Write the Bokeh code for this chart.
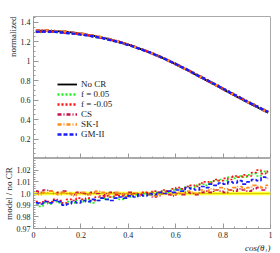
import numpy as np
from bokeh.plotting import figure
from bokeh.layouts import column
from bokeh.models import FixedTicker, Legend, LegendItem, Title
from bokeh.embed import file_html
from bokeh.resources import INLINE

# ---- data ----
bin_centers = [0.01, 0.03, 0.05, 0.07, 0.09, 0.11, 0.13, 0.15, 0.17, 0.19,
               0.21, 0.23, 0.25, 0.27, 0.29, 0.31, 0.33, 0.35, 0.37, 0.39,
               0.41, 0.43, 0.45, 0.47, 0.49, 0.51, 0.53, 0.55, 0.57, 0.59,
               0.61, 0.63, 0.65, 0.67, 0.69, 0.71, 0.73, 0.75, 0.77, 0.79,
               0.81, 0.83, 0.85, 0.87, 0.89, 0.91, 0.93, 0.95, 0.97, 0.99]

no_cr = [1.315, 1.315, 1.315, 1.313, 1.311, 1.308, 1.304, 1.299, 1.293, 1.287,
         1.280, 1.272, 1.263, 1.254, 1.244, 1.233, 1.221, 1.208, 1.194, 1.179,
         1.163, 1.146, 1.128, 1.110, 1.091, 1.071, 1.050, 1.028, 1.005, 0.981,
         0.957, 0.932, 0.907, 0.881, 0.855, 0.829, 0.803, 0.777, 0.751, 0.724,
         0.698, 0.672, 0.646, 0.620, 0.594, 0.569, 0.544, 0.519, 0.495, 0.472]

ratio_f_p05 = [0.990, 0.989, 0.992, 0.991, 0.993, 0.992, 0.991, 0.993, 0.992, 0.994,
               0.993, 0.995, 0.992, 0.994, 0.996, 0.995, 0.997, 0.996, 0.995, 0.998,
               0.997, 0.999, 0.998, 1.000, 0.999, 1.001, 1.000, 1.002, 1.001, 1.003,
               1.004, 1.003, 1.006, 1.005, 1.007, 1.008, 1.007, 1.010, 1.011, 1.012,
               1.011, 1.014, 1.013, 1.015, 1.014, 1.016, 1.017, 1.015, 1.019, 1.018]

ratio_f_m05 = [0.993, 0.992, 0.994, 0.993, 0.995, 0.994, 0.992, 0.995, 0.994, 0.996,
               0.995, 0.996, 0.994, 0.997, 0.996, 0.998, 0.997, 0.999, 0.998, 0.997,
               0.999, 1.000, 0.999, 1.001, 1.000, 1.002, 1.001, 1.003, 1.002, 1.004,
               1.005, 1.004, 1.006, 1.007, 1.006, 1.009, 1.010, 1.009, 1.012, 1.011,
               1.013, 1.012, 1.015, 1.014, 1.016, 1.015, 1.018, 1.020, 1.017, 1.019]

ratio_cs = [1.002, 1.001, 1.003, 1.002, 1.000, 1.001, 1.002, 1.000, 0.999, 1.001,
            1.000, 0.999, 1.001, 1.000, 0.998, 1.000, 1.001, 0.999, 1.000, 0.999,
            1.001, 1.000, 0.998, 1.000, 0.999, 0.997, 0.998, 1.000, 0.999, 0.998,
            1.000, 0.999, 1.001, 1.000, 0.999, 1.001, 1.002, 1.001, 1.003, 1.002,
            1.001, 1.003, 1.002, 1.004, 1.003, 1.002, 1.004, 1.005, 1.003, 1.005]

ratio_sk1 = [1.000, 0.999, 1.001, 1.002, 1.000, 0.999, 1.001, 1.000, 0.998, 1.000,
             1.001, 0.999, 1.000, 1.002, 1.001, 0.999, 1.000, 1.001, 0.999, 1.000,
             0.998, 1.000, 0.999, 1.001, 1.000, 0.998, 0.999, 1.001, 1.000, 0.999,
             1.001, 1.000, 1.002, 1.001, 1.000, 1.003, 1.002, 1.004, 1.003, 1.005,
             1.004, 1.003, 1.005, 1.006, 1.004, 1.005, 1.007, 1.006, 1.005, 1.007]

ratio_gm2 = [0.992, 0.991, 0.993, 0.992, 0.994, 0.993, 0.990, 0.991, 0.993, 0.992,
             0.994, 0.993, 0.995, 0.994, 0.996, 0.995, 0.994, 0.996, 0.997, 0.996,
             0.998, 0.997, 0.999, 0.998, 1.000, 0.999, 1.001, 1.000, 1.002, 1.001,
             1.003, 1.002, 1.005, 1.004, 1.003, 1.006, 1.005, 1.008, 1.007, 1.009,
             1.008, 1.010, 1.009, 1.011, 1.008, 1.010, 1.012, 1.011, 1.014, 1.013]

no_cr_err = 0.0015

x_ticks = [0, 0.2, 0.4, 0.6, 0.8, 1.0]
x_tick_labels = ["0", "0.2", "0.4", "0.6", "0.8", "1"]
top_y_ticks = [0.2, 0.4, 0.6, 0.8, 1.0, 1.2, 1.4]
top_y_labels = ["0.2", "0.4", "0.6", "0.8", "1", "1.2", "1.4"]
bot_y_ticks = [0.97, 0.98, 0.99, 1.0, 1.01, 1.02]
bot_y_labels = ["0.97", "0.98", "0.99", "1.0", "1.01", "1.02"]

series = [
    ("f = 0.05", ratio_f_p05, "#22ee22", "2 2"),
    ("f = -0.05", ratio_f_m05, "#ff1111", "2 2"),
    ("CS", ratio_cs, "#c8104a", "4 2 1 2"),
    ("SK-I", ratio_sk1, "#ff8c1a", "4 2 1 2"),
    ("GM-II", ratio_gm2, "#1a1aff", "4 2"),
]

FONT = "Liberation Serif"
AX_GRAY = "#999999"

def style(p, y_ticks, y_labels, y_minor, show_x_labels):
    p.outline_line_color = "#aaaaaa"
    p.xgrid.visible = False
    p.ygrid.visible = False
    for ax in p.axis:
        ax.axis_line_color = AX_GRAY
        ax.major_tick_line_color = AX_GRAY
        ax.minor_tick_line_color = AX_GRAY
        ax.major_tick_in = 5
        ax.major_tick_out = 0
        ax.minor_tick_in = 2
        ax.minor_tick_out = 0
        ax.major_label_text_font = FONT
        ax.major_label_text_font_size = "8px"
        ax.major_label_text_color = "#222222"
        ax.axis_label_text_font = FONT
        ax.axis_label_text_font_size = "9px"
        ax.axis_label_text_font_style = "normal"
        ax.axis_label_text_color = "#222222"
        ax.major_label_standoff = 3
        ax.axis_label_standoff = 0
    p.xaxis.ticker = FixedTicker(ticks=x_ticks,
                                 minor_ticks=list(np.round(np.arange(0, 1.0001, 0.05), 3)))
    p.yaxis.ticker = FixedTicker(ticks=y_ticks, minor_ticks=y_minor)
    p.yaxis.major_label_overrides = {t: l for t, l in zip(y_ticks, y_labels)}
    if show_x_labels:
        p.xaxis.major_label_overrides = {t: l for t, l in zip(x_ticks, x_tick_labels)}
    else:
        p.xaxis.major_label_overrides = {t: "" for t in x_ticks}
        p.xaxis.major_label_text_font_size = "1px"
        p.xaxis.major_label_standoff = 0
        p.xaxis.axis_line_color = "#555555"

# ---- top panel ----
top = figure(frame_width=237, frame_height=142, x_range=(0, 1), y_range=(0, 1.46),
             output_backend="svg", toolbar_location=None,
             min_border_left=26, min_border_right=9, min_border_top=16, min_border_bottom=0)
style(top, top_y_ticks, top_y_labels,
      list(np.round(np.arange(0.05, 1.46, 0.05), 3)), False)
top.add_layout(Title(text="normalized", align="right", text_font=FONT,
                     text_font_size="9px", text_font_style="normal",
                     text_color="#222222", standoff=0, offset=0), "left")

base = np.array(no_cr)
items = []
r0 = top.line(bin_centers, no_cr, line_color="black", line_width=1.8)
items.append(LegendItem(label="No CR", renderers=[r0]))
top_renderers = {}
for name, ratio, col, dash in series:
    r = top.line(bin_centers, list(base * np.array(ratio)), line_color=col,
                 line_width=2.4, line_dash=dash)
    top_renderers[name] = r
for name, ratio, col, dash in series:
    items.append(LegendItem(label=name, renderers=[top_renderers[name]]))

legend = Legend(items=items, location=(24, 19), orientation="vertical",
                glyph_width=20, glyph_height=10, label_height=10, spacing=0,
                padding=0, margin=0, label_standoff=4,
                label_text_font=FONT, label_text_font_size="9px",
                label_text_color="#222222",
                border_line_color=None, background_fill_alpha=0)
top.add_layout(legend, "center")

# ---- bottom panel ----
bot = figure(frame_width=237, frame_height=70, x_range=(0, 1), y_range=(0.97, 1.03),
             output_backend="svg", toolbar_location=None,
             min_border_left=26, min_border_right=9, min_border_top=0, min_border_bottom=0)
style(bot, bot_y_ticks, bot_y_labels,
      list(np.round(np.arange(0.97, 1.0301, 0.002), 4)), True)
bot.yaxis.axis_label = "model / no CR"
bot.add_layout(Title(text="cos(θ₁)", align="right", text_font=FONT,
                     text_font_size="9px", text_font_style="italic",
                     text_color="#222222", standoff=0, offset=0), "below")

band_lo = [1.0 - no_cr_err for _ in bin_centers]
band_hi = [1.0 + no_cr_err for _ in bin_centers]
bot.varea(x=[0.0, 1.0], y1=[band_lo[0], band_lo[-1]], y2=[band_hi[0], band_hi[-1]],
          fill_color="#ffff20", fill_alpha=0.9)
bot.line(x=[0.0, 1.0], y=[1.0, 1.0], line_color="#d6cc00", line_width=1)

draw_order = ["CS", "SK-I", "f = 0.05", "f = -0.05", "GM-II"]
lookup = {s[0]: s for s in series}
for name in draw_order:
    _, ratio, col, dash = lookup[name]
    bot.step(bin_centers, ratio, mode="center", line_color=col, line_width=1.7,
             line_dash=dash)

layout = column(top, bot, spacing=0)
open("out.html", "w").write(file_html(layout, INLINE))
